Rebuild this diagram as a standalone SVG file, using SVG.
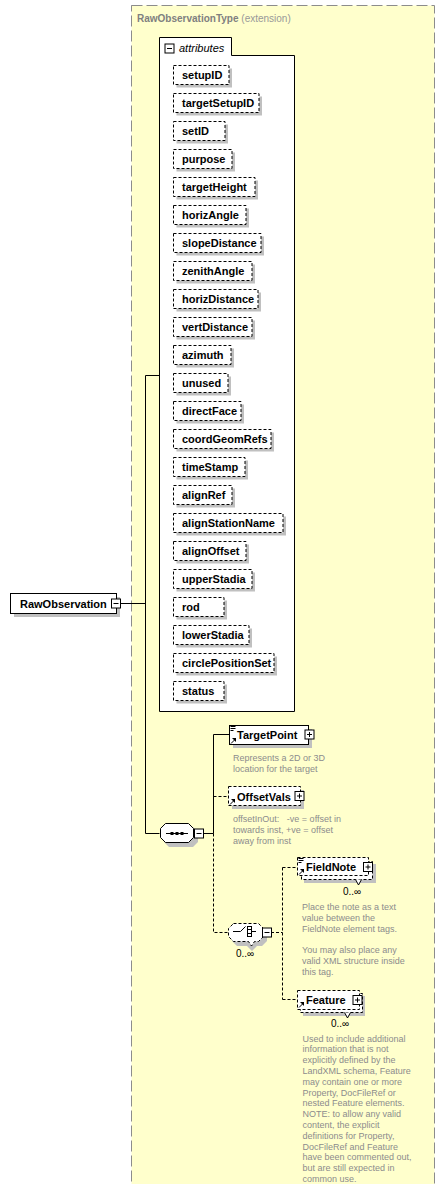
<svg xmlns="http://www.w3.org/2000/svg" width="448" height="1184" viewBox="0 0 448 1184">
<style>
.panel{fill:#ffffcc;stroke:#8c8c8c;stroke-dasharray:11,4}
.box{fill:#fff;stroke:#000;stroke-width:1}
.dash{stroke-dasharray:3,2}
.shadow{fill:#c0c0c0}
.nm{font-family:"Liberation Sans",Arial,sans-serif;font-size:11px;font-weight:bold;fill:#000}
.doc{font-family:"Liberation Sans",Arial,sans-serif;font-size:9px;fill:#8c8c8c}
.occ{font-family:"Liberation Sans",Arial,sans-serif;font-size:10px;fill:#000}
.ln{stroke:#000;fill:none}
.dl{stroke:#000;fill:none;stroke-dasharray:3,2}
.ico{stroke:#000;fill:none;stroke-width:1}
</style>
<defs>
<g id="arrowIcon"><path d="M0.5,5.5 L4,2" class="ico"/><path d="M1.5,0 L5.5,0 L5.5,4 Z" fill="#000"/></g>
<g id="docIcon"><path d="M0,0.5 H5 M0,2.5 H5 M0,4.5 H3" class="ico"/></g>
<g id="plus"><rect x="0.5" y="0.5" width="9" height="9" class="box"/><path d="M2.5,5 H7.5 M5,2.5 V7.5" class="ico"/></g>
<g id="minus"><rect x="0.5" y="0.5" width="9" height="9" class="box"/><path d="M2.5,5 H7.5" class="ico"/></g>
</defs>

<g id="panel">
<rect class="panel" x="131.5" y="5.5" width="303" height="1200"/>
<text x="137" y="22" font-family="Liberation Sans,Arial,sans-serif" font-size="10" font-weight="bold" fill="#808080">RawObservationType <tspan font-weight="normal" fill="#999">(extension)</tspan></text>
</g>

<g id="connectors">
<path class="ln" d="M120.5,603.5 H145.5 M145.5,375.5 V833.5 M145.5,375.5 H159 M145.5,833.5 H159.5"/>
<path class="ln" d="M203.5,833.5 H213.5 M213.5,734.5 V833.5 M213.5,734.5 H229"/>
<path class="dl" d="M213.5,796.5 H228.5 M213.5,833.5 V932.5 H228"/>
<path class="dl" d="M271,932.5 H282.5 M282.5,867.5 V999.5 M282.5,867.5 H297.5 M282.5,999.5 H297.5"/>
</g>

<g id="RawObservation">
<rect class="shadow" x="14" y="597" width="106" height="20"/>
<rect class="box" x="10.5" y="593.5" width="106" height="20"/>
<text class="nm" x="20" y="607.5">RawObservation</text>
<use href="#minus" x="111" y="598.5"/>
</g>

<g id="attributes">
<path class="box" d="M159.5,711.5 V37.5 H231.5 V55.5 H294.5 V711.5 Z"/>
<use href="#minus" x="164.5" y="43.5"/>
<text x="179" y="52" font-family="Liberation Sans,Arial,sans-serif" font-size="11" font-style="italic" fill="#000">attributes</text>
</g>

<g id="attr-setupID"><rect class="shadow" x="176.5" y="68.5" width="55.5" height="19"/><rect class="box dash" x="173.5" y="65.5" width="55.5" height="19"/><text class="nm" x="182" y="78.5">setupID</text></g>
<g id="attr-targetSetupID"><rect class="shadow" x="176.5" y="96.5" width="85.5" height="19"/><rect class="box dash" x="173.5" y="93.5" width="85.5" height="19"/><text class="nm" x="182" y="106.5">targetSetupID</text></g>
<g id="attr-setID"><rect class="shadow" x="176.5" y="124.5" width="51.5" height="19"/><rect class="box dash" x="173.5" y="121.5" width="51.5" height="19"/><text class="nm" x="182" y="134.5">setID</text></g>
<g id="attr-purpose"><rect class="shadow" x="176.5" y="152.5" width="58.5" height="19"/><rect class="box dash" x="173.5" y="149.5" width="58.5" height="19"/><text class="nm" x="182" y="162.5">purpose</text></g>
<g id="attr-targetHeight"><rect class="shadow" x="176.5" y="180.5" width="81.5" height="19"/><rect class="box dash" x="173.5" y="177.5" width="81.5" height="19"/><text class="nm" x="182" y="190.5">targetHeight</text></g>
<g id="attr-horizAngle"><rect class="shadow" x="176.5" y="208.5" width="72.5" height="19"/><rect class="box dash" x="173.5" y="205.5" width="72.5" height="19"/><text class="nm" x="182" y="218.5">horizAngle</text></g>
<g id="attr-slopeDistance"><rect class="shadow" x="176.5" y="236.5" width="87.5" height="19"/><rect class="box dash" x="173.5" y="233.5" width="87.5" height="19"/><text class="nm" x="182" y="246.5">slopeDistance</text></g>
<g id="attr-zenithAngle"><rect class="shadow" x="176.5" y="264.5" width="78.5" height="19"/><rect class="box dash" x="173.5" y="261.5" width="78.5" height="19"/><text class="nm" x="182" y="274.5">zenithAngle</text></g>
<g id="attr-horizDistance"><rect class="shadow" x="176.5" y="292.5" width="84.5" height="19"/><rect class="box dash" x="173.5" y="289.5" width="84.5" height="19"/><text class="nm" x="182" y="302.5">horizDistance</text></g>
<g id="attr-vertDistance"><rect class="shadow" x="176.5" y="320.5" width="78.5" height="19"/><rect class="box dash" x="173.5" y="317.5" width="78.5" height="19"/><text class="nm" x="182" y="330.5">vertDistance</text></g>
<g id="attr-azimuth"><rect class="shadow" x="176.5" y="348.5" width="57.5" height="19"/><rect class="box dash" x="173.5" y="345.5" width="57.5" height="19"/><text class="nm" x="182" y="358.5">azimuth</text></g>
<g id="attr-unused"><rect class="shadow" x="176.5" y="376.5" width="54.5" height="19"/><rect class="box dash" x="173.5" y="373.5" width="54.5" height="19"/><text class="nm" x="182" y="386.5">unused</text></g>
<g id="attr-directFace"><rect class="shadow" x="176.5" y="404.5" width="67.5" height="19"/><rect class="box dash" x="173.5" y="401.5" width="67.5" height="19"/><text class="nm" x="182" y="414.5">directFace</text></g>
<g id="attr-coordGeomRefs"><rect class="shadow" x="176.5" y="432.5" width="97.5" height="19"/><rect class="box dash" x="173.5" y="429.5" width="97.5" height="19"/><text class="nm" x="182" y="442.5">coordGeomRefs</text></g>
<g id="attr-timeStamp"><rect class="shadow" x="176.5" y="460.5" width="71.5" height="19"/><rect class="box dash" x="173.5" y="457.5" width="71.5" height="19"/><text class="nm" x="182" y="470.5">timeStamp</text></g>
<g id="attr-alignRef"><rect class="shadow" x="176.5" y="488.5" width="58.5" height="19"/><rect class="box dash" x="173.5" y="485.5" width="58.5" height="19"/><text class="nm" x="182" y="498.5">alignRef</text></g>
<g id="attr-alignStationName"><rect class="shadow" x="176.5" y="516.5" width="109.5" height="19"/><rect class="box dash" x="173.5" y="513.5" width="109.5" height="19"/><text class="nm" x="182" y="526.5">alignStationName</text></g>
<g id="attr-alignOffset"><rect class="shadow" x="176.5" y="544.5" width="72.5" height="19"/><rect class="box dash" x="173.5" y="541.5" width="72.5" height="19"/><text class="nm" x="182" y="554.5">alignOffset</text></g>
<g id="attr-upperStadia"><rect class="shadow" x="176.5" y="572.5" width="78.5" height="19"/><rect class="box dash" x="173.5" y="569.5" width="78.5" height="19"/><text class="nm" x="182" y="582.5">upperStadia</text></g>
<g id="attr-rod"><rect class="shadow" x="176.5" y="600.5" width="50.5" height="19"/><rect class="box dash" x="173.5" y="597.5" width="50.5" height="19"/><text class="nm" x="182" y="610.5">rod</text></g>
<g id="attr-lowerStadia"><rect class="shadow" x="176.5" y="628.5" width="75.5" height="19"/><rect class="box dash" x="173.5" y="625.5" width="75.5" height="19"/><text class="nm" x="182" y="638.5">lowerStadia</text></g>
<g id="attr-circlePositionSet"><rect class="shadow" x="176.5" y="656.5" width="100.5" height="19"/><rect class="box dash" x="173.5" y="653.5" width="100.5" height="19"/><text class="nm" x="182" y="666.5">circlePositionSet</text></g>
<g id="attr-status"><rect class="shadow" x="176.5" y="684.5" width="50.5" height="19"/><rect class="box dash" x="173.5" y="681.5" width="50.5" height="19"/><text class="nm" x="182" y="694.5">status</text></g>

<g id="sequence">
<path class="shadow" d="M169,827 H193 L198,832 V842 L193,847 H169 L164,842 V832 Z"/>
<path class="box" d="M165.5,823.5 H188.5 L193.5,828.5 V837.5 L188.5,842.5 H165.5 L160.5,837.5 V828.5 Z"/>
<path class="ico" d="M166,833.5 H188"/>
<rect x="170.5" y="832" width="3" height="3" fill="#000"/>
<rect x="175.5" y="832" width="3" height="3" fill="#000"/>
<rect x="180.5" y="832" width="3" height="3" fill="#000"/>
<use href="#minus" x="194" y="828.5"/>
</g>

<g id="TargetPoint">
<rect class="shadow" x="233" y="729" width="79" height="19"/>
<rect class="box" x="229.5" y="725.5" width="79" height="19"/>
<use href="#docIcon" x="230.5" y="726"/>
<use href="#arrowIcon" x="230.5" y="738"/>
<text class="nm" x="237" y="739">TargetPoint</text>
<use href="#plus" x="304.5" y="729.5"/>
<text class="doc" x="233" y="761">Represents a 2D or 3D</text>
<text class="doc" x="233" y="772">location for the target</text>
</g>

<g id="OffsetVals">
<rect class="shadow" x="232" y="790" width="72" height="19"/>
<rect class="box dash" x="228.5" y="786.5" width="72" height="19"/>
<use href="#arrowIcon" x="229.5" y="799"/>
<text class="nm" x="237" y="800.5">OffsetVals</text>
<use href="#plus" x="294.5" y="791"/>
<text class="doc" x="233" y="821.5" xml:space="preserve">offsetInOut:   -ve = offset in</text>
<text class="doc" x="233" y="832.5">towards inst, +ve = offset</text>
<text class="doc" x="233" y="843.5">away from inst</text>
</g>

<g id="choice">
<path class="shadow" d="M237,927 H262 L267,932 V941 L262,946 H257 L252,951 L247,946 H237 L232,941 V932 Z"/>
<path class="box dash" d="M233.5,923.5 H258.5 L263.5,928.5 V936.5 L258.5,941.5 H254.5 L251.5,946 L248.5,941.5 H233.5 L228.5,936.5 V928.5 Z"/>
<path class="ico" d="M233,931.5 H240.5 L245.5,926.5"/>
<rect x="247.5" y="926.5" width="4" height="10" class="box"/>
<path class="ico" d="M247.5,929.5 H251.5 M247.5,933.5 H251.5 M251.5,931.5 H256"/>
<use href="#minus" x="262" y="927.5"/>
<text class="occ" x="236" y="957">0..∞</text>
</g>

<g id="FieldNote">
<rect class="shadow" x="304" y="864" width="72" height="19"/>
<rect class="box dash" x="301.5" y="861.5" width="71" height="18"/>
<path class="box" d="M355.5,879.5 L358.5,885 L361.5,879.5" />
<rect class="box dash" x="297.5" y="857.5" width="71" height="18"/>
<use href="#docIcon" x="298.5" y="858"/>
<use href="#arrowIcon" x="298.5" y="869"/>
<text class="nm" x="306" y="870.5">FieldNote</text>
<use href="#plus" x="363" y="862"/>
<text class="occ" x="343" y="895">0..∞</text>
<text class="doc" x="302" y="909.5">Place the note as a text</text>
<text class="doc" x="302" y="920.5">value between the</text>
<text class="doc" x="302" y="931.5">FieldNote element tags.</text>
<text class="doc" x="302" y="953">You may also place any</text>
<text class="doc" x="302" y="964">valid XML structure inside</text>
<text class="doc" x="302" y="975">this tag.</text>
</g>

<g id="Feature">
<rect class="shadow" x="303" y="996" width="62" height="20"/>
<rect class="box dash" x="300.5" y="993.5" width="62" height="19"/>
<path class="box" d="M344.5,1012.5 L347.5,1018 L350.5,1012.5"/>
<rect class="box dash" x="297.5" y="990.5" width="62" height="19"/>
<use href="#arrowIcon" x="298.5" y="1002"/>
<text class="nm" x="306" y="1004">Feature</text>
<use href="#plus" x="352.5" y="995"/>
<text class="occ" x="331" y="1027">0..∞</text>
<text class="doc" x="302.5" y="1041.5">Used to include additional</text>
<text class="doc" x="302.5" y="1052.3">information that is not</text>
<text class="doc" x="302.5" y="1063.1">explicitly defined by the</text>
<text class="doc" x="302.5" y="1073.9">LandXML schema, Feature</text>
<text class="doc" x="302.5" y="1084.7">may contain one or more</text>
<text class="doc" x="302.5" y="1095.5">Property, DocFileRef or</text>
<text class="doc" x="302.5" y="1106.3">nested Feature elements.</text>
<text class="doc" x="302.5" y="1117.1">NOTE: to allow any valid</text>
<text class="doc" x="302.5" y="1127.9">content, the explicit</text>
<text class="doc" x="302.5" y="1138.7">definitions for Property,</text>
<text class="doc" x="302.5" y="1149.5">DocFileRef and Feature</text>
<text class="doc" x="302.5" y="1160.3">have been commented out,</text>
<text class="doc" x="302.5" y="1171.1">but are still expected in</text>
<text class="doc" x="302.5" y="1181.9">common use.</text>
</g>
</svg>
